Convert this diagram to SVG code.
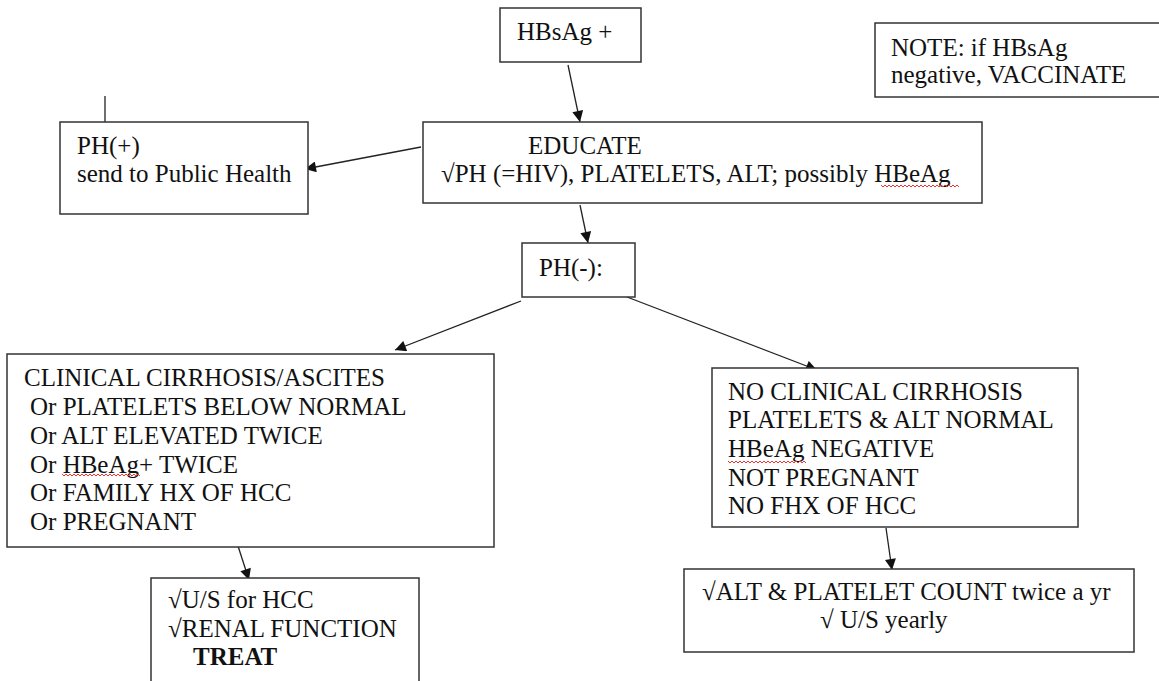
<svg xmlns="http://www.w3.org/2000/svg" width="1159" height="681" viewBox="0 0 1159 681">
<style>
.box{fill:#fff;stroke:#333;stroke-width:1.5}
text{font-family:'Liberation Serif','Times New Roman',serif;font-size:25px;fill:#111}
.b{font-weight:bold}
.c{fill:none;stroke:#222;stroke-width:1.3}
.sq{fill:none;stroke:#e33;stroke-width:1}
</style>
<defs>
<marker id="ah" viewBox="0 0 10 10" refX="10" refY="5" markerWidth="13" markerHeight="11" markerUnits="userSpaceOnUse" orient="auto">
<path d="M0,0 L10,5 L0,10 z" fill="#111"/>
</marker>
<path id="wave" class="sq" d="M0,0 l2,2 2,-2 2,2 2,-2 2,2 2,-2 2,2 2,-2 2,2 2,-2 2,2 2,-2 2,2 2,-2 2,2 2,-2 2,2 2,-2 2,2 2,-2 2,2 2,-2 2,2 2,-2 2,2 2,-2 2,2 2,-2 2,2 2,-2 2,2 2,-2 2,2 2,-2 2,2 2,-2 2,2 2,-2 2,2"/>
</defs>
<rect width="1159" height="681" fill="#fff"/>
<g id="connectors">
<line class="c" x1="105" y1="96" x2="105" y2="122"/>
<line class="c" x1="568" y1="65" x2="580" y2="122" marker-end="url(#ah)"/>
<line class="c" x1="421" y1="147" x2="305" y2="169" marker-end="url(#ah)"/>
<line class="c" x1="580" y1="205" x2="588" y2="243" marker-end="url(#ah)"/>
<line class="c" x1="521" y1="301" x2="395" y2="350" marker-end="url(#ah)"/>
<line class="c" x1="627" y1="297" x2="817" y2="370" marker-end="url(#ah)"/>
<line class="c" x1="238" y1="546" x2="249" y2="580" marker-end="url(#ah)"/>
<line class="c" x1="886" y1="528" x2="892" y2="570" marker-end="url(#ah)"/>
</g>
<g id="hbsag">
<rect class="box" x="500" y="8" width="141" height="54"/>
<text x="517" y="40">HBsAg +</text>
</g>
<g id="note">
<rect class="box" x="875" y="23" width="300" height="74"/>
<text x="891" y="56">NOTE: if HBsAg</text>
<text x="891" y="83">negative, VACCINATE</text>
</g>
<g id="educate">
<rect class="box" x="423" y="122" width="559" height="81"/>
<text x="528" y="154">EDUCATE</text>
<text x="441" y="182">√PH (=HIV), PLATELETS, ALT; possibly HBeAg</text>
<use href="#wave" x="881" y="185"/>
</g>
<g id="phpos">
<rect class="box" x="60" y="122" width="248" height="92"/>
<text x="77" y="154">PH(+)</text>
<text x="77" y="182">send to Public Health</text>
</g>
<g id="phneg">
<rect class="box" x="522" y="243" width="113" height="54"/>
<text x="539" y="276">PH(-):</text>
</g>
<g id="left">
<rect class="box" x="7" y="354" width="487" height="193"/>
<text x="24" y="386">CLINICAL CIRRHOSIS/ASCITES</text>
<text x="30" y="415">Or PLATELETS BELOW NORMAL</text>
<text x="30" y="444">Or ALT ELEVATED TWICE</text>
<text x="30" y="473">Or HBeAg+ TWICE</text>
<text x="30" y="501">Or FAMILY HX OF HCC</text>
<text x="30" y="530">Or PREGNANT</text>
<use href="#wave" x="62" y="474"/>
</g>
<g id="treat">
<rect class="box" x="151" y="578" width="268" height="120"/>
<text x="168" y="608">√U/S for HCC</text>
<text x="168" y="637">√RENAL FUNCTION</text>
<text class="b" x="193" y="665">TREAT</text>
</g>
<g id="right">
<rect class="box" x="712" y="368" width="366" height="159"/>
<text x="728" y="400">NO CLINICAL CIRRHOSIS</text>
<text x="728" y="428">PLATELETS &amp; ALT NORMAL</text>
<text x="728" y="457">HBeAg NEGATIVE</text>
<text x="728" y="486">NOT PREGNANT</text>
<text x="728" y="514">NO FHX OF HCC</text>
<use href="#wave" x="728" y="461"/>
</g>
<g id="monitor">
<rect class="box" x="684" y="569" width="450" height="83"/>
<text x="702" y="600">√ALT &amp; PLATELET COUNT twice a yr</text>
<text x="820" y="628">√ U/S yearly</text>
</g>
</svg>
